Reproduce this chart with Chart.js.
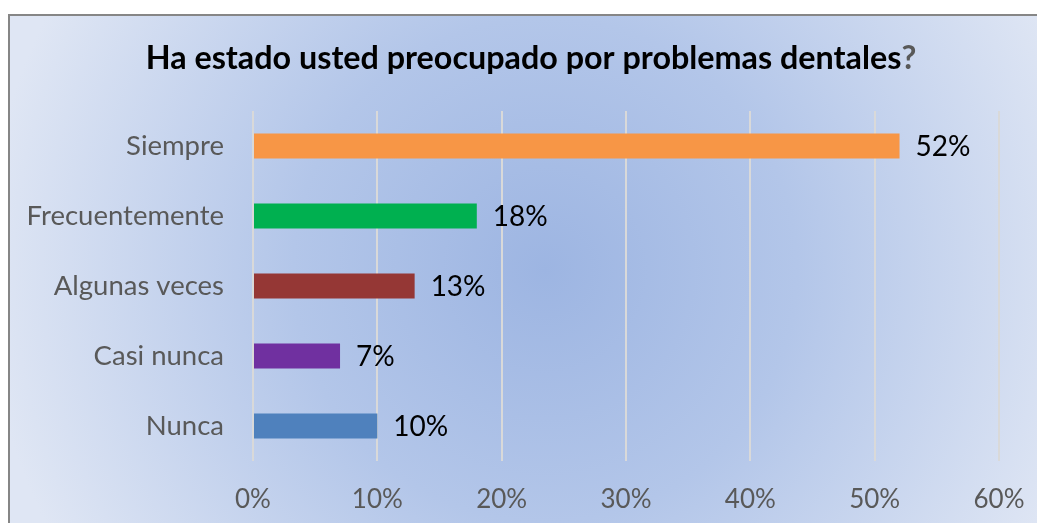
<!DOCTYPE html>
<html>
<head>
<meta charset="utf-8">
<script src="https://cdn.jsdelivr.net/npm/chart.js@4"></script>
<style>
  html, body { margin: 0; padding: 0; background: #ffffff; }
  #wrap { position: relative; width: 1037px; height: 523px; }
</style>
</head>
<body>
<div id="wrap"><canvas id="c" width="1037" height="523"></canvas></div>
<script>
const categories = ["Siempre", "Frecuentemente", "Algunas veces", "Casi nunca", "Nunca"];
const values = [52, 18, 13, 7, 10];
const barColors = ["#F79646", "#00B050", "#953735", "#7030A0", "#4F81BD"];
const titleMain = "Ha estado usted preocupado por problemas dentales";
const titleMark = "?";

const FONT = "Lato, 'Open Sans', sans-serif";

const bgPlugin = {
  id: 'bg',
  beforeDraw(chart) {
    const ctx = chart.ctx;
    const W = chart.width, H = chart.height;
    ctx.save();
    ctx.fillStyle = '#ffffff';
    ctx.fillRect(0, 0, W, H);
    const g = ctx.createRadialGradient(545, 270, 0, 545, 270, 560);
    g.addColorStop(0, '#9DB5E2');
    g.addColorStop(0.45, '#B3C6E9');
    g.addColorStop(1, '#DFE6F4');
    ctx.fillStyle = g;
    ctx.fillRect(9, 15, W - 9, H - 15);
    ctx.strokeStyle = '#868686';
    ctx.lineWidth = 2;
    ctx.beginPath();
    ctx.moveTo(9, H + 2);
    ctx.lineTo(9, 15);
    ctx.lineTo(W + 2, 15);
    ctx.stroke();
    ctx.restore();
  }
};

const titlePlugin = {
  id: 'customTitle',
  afterDraw(chart) {
    const ctx = chart.ctx;
    ctx.save();
    ctx.font = "bold 32.3px " + FONT;
    ctx.textBaseline = 'middle';
    const w1 = ctx.measureText(titleMain).width;
    const w2 = ctx.measureText(titleMark).width;
    const cx = 531;
    const x0 = cx - (w1 + w2) / 2;
    ctx.textAlign = 'left';
    ctx.fillStyle = '#000000';
    ctx.fillText(titleMain, x0, 59);
    ctx.fillStyle = '#595959';
    ctx.fillText(titleMark, x0 + w1, 59);
    ctx.restore();
  }
};

const valueLabels = {
  id: 'valueLabels',
  afterDatasetsDraw(chart) {
    const ctx = chart.ctx;
    const meta = chart.getDatasetMeta(0);
    ctx.save();
    ctx.font = "28px " + FONT;
    ctx.fillStyle = '#000000';
    ctx.textAlign = 'left';
    ctx.textBaseline = 'middle';
    meta.data.forEach((bar, i) => {
      ctx.fillText(values[i] + '%', bar.x + 16, bar.y + 1);
    });
    ctx.restore();
  }
};

new Chart(document.getElementById('c'), {
  type: 'bar',
  data: {
    labels: categories,
    datasets: [{
      data: values,
      backgroundColor: barColors,
      borderWidth: 0,
      barPercentage: 0.36,
      categoryPercentage: 1.0
    }]
  },
  options: {
    indexAxis: 'y',
    responsive: false,
    animation: false,
    devicePixelRatio: 1,
    layout: { padding: { top: 111, right: 38, bottom: 0, left: 0 } },
    plugins: { legend: { display: false }, title: { display: false }, tooltip: { enabled: false } },
    scales: {
      x: {
        min: 0, max: 60,
        ticks: { stepSize: 10, callback: v => v + '%', color: '#595959', font: { family: FONT, size: 26 }, padding: 23, maxRotation: 0 },
        grid: { color: '#D9D9D9', lineWidth: 2, drawTicks: false },
        border: { display: false },
        afterFit(scale) { scale.height = 62; scale.paddingRight = 0; scale.paddingLeft = 0; }
      },
      y: {
        ticks: { color: '#595959', font: { family: FONT, size: 27.5 }, padding: 29 },
        grid: { display: false, drawTicks: false },
        border: { display: false },
        afterFit(scale) { scale.width = 253; }
      }
    }
  },
  plugins: [bgPlugin, titlePlugin, valueLabels]
});
</script>
</body>
</html>
